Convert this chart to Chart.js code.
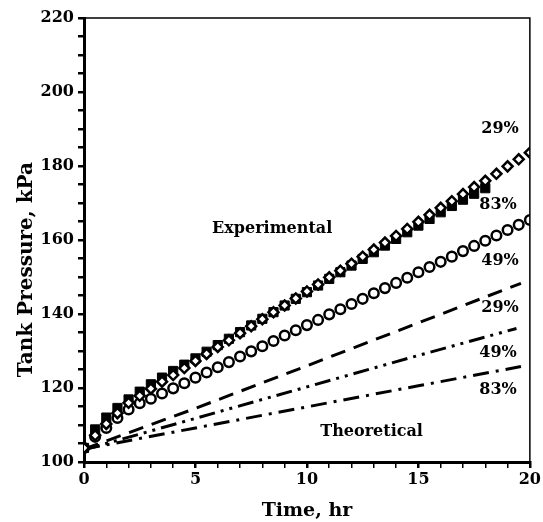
<!DOCTYPE html>
<html>
<head>
<meta charset="utf-8">
<script src="https://cdn.jsdelivr.net/npm/chart.js@4.4.1/dist/chart.umd.min.js"></script>
<style>
  html, body { margin: 0; padding: 0; background: #fff; }
</style>
</head>
<body>
<canvas id="pressureChart" width="543" height="522"></canvas>
<script>
// experimental readings, every half hour
const expTime = [0, 0.5, 1, 1.5, 2, 2.5, 3, 3.5, 4, 4.5, 5, 5.5, 6, 6.5, 7, 7.5, 8, 8.5, 9, 9.5, 10,
                 10.5, 11, 11.5, 12, 12.5, 13, 13.5, 14, 14.5, 15, 15.5, 16, 16.5, 17, 17.5, 18, 18.5, 19, 19.5, 20];
const exp29 = [103.8, 107.2, 110.3, 113.2, 116.0, 117.9, 119.8, 121.7, 123.5, 125.4, 127.3, 129.2, 131.1, 132.9,
               134.8, 136.7, 138.6, 140.5, 142.3, 144.2, 146.1, 148.0, 149.9, 151.7, 153.6, 155.5, 157.4, 159.3,
               161.1, 163.0, 164.9, 166.8, 168.7, 170.5, 172.4, 174.3, 176.0, 177.9, 179.9, 181.8, 183.6];
const exp49 = [103.8, 106.8, 109.2, 111.9, 114.2, 115.9, 117.1, 118.5, 119.9, 121.3, 122.8, 124.2, 125.6, 127.0,
               128.5, 129.9, 131.3, 132.7, 134.2, 135.6, 137.0, 138.4, 139.9, 141.3, 142.7, 144.1, 145.6, 147.0,
               148.4, 149.8, 151.3, 152.7, 154.1, 155.5, 157.0, 158.4, 159.8, 161.2, 162.7, 164.1, 165.4];
// 83% run stops at 18 hr
const exp83Time = [0, 0.5, 1, 1.5, 2, 2.5, 3, 3.5, 4, 4.5, 5, 5.5, 6, 6.5, 7, 7.5, 8, 8.5, 9, 9.5, 10,
                   10.5, 11, 11.5, 12, 12.5, 13, 13.5, 14, 14.5, 15, 15.5, 16, 16.5, 17, 17.5, 18];
const exp83 = [103.8, 108.8, 112.0, 114.6, 116.9, 119.0, 121.0, 122.8, 124.6, 126.3, 128.0, 129.8, 131.6, 133.3,
               135.1, 136.9, 138.7, 140.5, 142.3, 144.1, 145.9, 147.7, 149.5, 151.3, 153.1, 154.9, 156.7, 158.5,
               160.3, 162.1, 163.9, 165.7, 167.5, 169.2, 170.9, 172.5, 174.0];

// theoretical curves
const theoTime29 = [0, 5, 10, 15, 19.6];
const theo29 = [103.5, 114.5, 126.0, 137.6, 148.3];
const theoTime49 = [0, 5, 10, 15, 19.4];
const theo49 = [103.3, 111.8, 120.3, 128.8, 136.1];
const theoTime83 = [0, 5, 10, 15, 19.6];
const theo83 = [103.5, 109.2, 114.9, 120.6, 125.8];

// text on the plot, in data units
const noteText = ['29%', '83%', '49%', '29%', '49%', '83%', 'Experimental', 'Theoretical'];
const noteTime = [18.66, 18.57, 18.66, 18.66, 18.57, 18.57, 8.44, 12.9];
const notePres = [190.0, 169.5, 154.3, 141.6, 129.5, 119.5, 163.0, 108.1];

const serif = '"DejaVu Serif", "Liberation Serif", serif';

function pts(xs, ys) {
    return ys.map((v, i) => ({ x: xs[i], y: v }));
}

const extras = {
    id: 'extras',
    afterDraw(chart) {
        const { ctx, chartArea: a, scales: { x, y } } = chart;
        ctx.save();
        ctx.strokeStyle = '#000';
        ctx.lineWidth = 1.5;
        ctx.beginPath();
        ctx.moveTo(a.left, a.top);
        ctx.lineTo(a.right, a.top);
        ctx.lineTo(a.right, a.bottom);
        ctx.stroke();

        ctx.fillStyle = '#000';
        ctx.textAlign = 'center';
        ctx.textBaseline = 'middle';
        ctx.font = 'bold 16px ' + serif;
        noteText.forEach((t, i) => {
            ctx.fillText(t, x.getPixelForValue(noteTime[i]), y.getPixelForValue(notePres[i]));
        });

        // y axis title sits a bit below the middle in the original
        ctx.translate(27, y.getPixelForValue(152));
        ctx.rotate(-Math.PI / 2);
        ctx.font = 'bold 20px ' + serif;
        ctx.fillText('Tank Pressure, kPa', 0, 0);
        ctx.restore();
    }
};

const tickGrid = {
    drawOnChartArea: false,
    drawTicks: true,
    tickLength: 6,
    color: '#000',
    lineWidth: c => (c.tick && c.tick.value % 5 === 0) ? 2.5 : 1.5
};

new Chart(document.getElementById('pressureChart'), {
    type: 'scatter',
    data: {
        datasets: [
            {
                label: 'Exp 29%',
                data: pts(expTime, exp29),
                pointStyle: 'rectRot',
                pointRadius: 5,
                backgroundColor: '#fff',
                borderColor: '#000',
                borderWidth: 2.5,
                order: 0
            },
            {
                label: 'Exp 49%',
                data: pts(expTime, exp49),
                pointStyle: 'circle',
                pointRadius: 4.8,
                backgroundColor: '#fff',
                borderColor: '#000',
                borderWidth: 2.5,
                order: 1
            },
            {
                label: 'Exp 83%',
                data: pts(exp83Time, exp83),
                pointStyle: 'rect',
                pointRadius: 6.5,
                backgroundColor: '#000',
                borderColor: '#000',
                borderWidth: 1,
                order: 2
            },
            {
                label: 'Theory 29%',
                data: pts(theoTime29, theo29),
                showLine: true,
                pointRadius: 0,
                borderColor: '#000',
                borderWidth: 3,
                borderDash: [15, 9],
                order: 3
            },
            {
                label: 'Theory 49%',
                data: pts(theoTime49, theo49),
                showLine: true,
                pointRadius: 0,
                borderColor: '#000',
                borderWidth: 3,
                borderDash: [16, 6, 3, 6, 3, 6],
                order: 4
            },
            {
                label: 'Theory 83%',
                data: pts(theoTime83, theo83),
                showLine: true,
                pointRadius: 0,
                borderColor: '#000',
                borderWidth: 3,
                borderDash: [16, 7, 3, 7],
                order: 5
            }
        ]
    },
    options: {
        responsive: false,
        animation: false,
        layout: { padding: { top: 18, right: 10, left: 0, bottom: 0 } },
        plugins: {
            legend: { display: false },
            tooltip: { enabled: false }
        },
        scales: {
            x: {
                type: 'linear',
                min: 0,
                max: 20,
                ticks: {
                    stepSize: 1,
                    autoSkip: false,
                    maxRotation: 0,
                    padding: 2,
                    color: '#000',
                    font: { family: serif, size: 16, weight: 'bold' },
                    callback: v => v % 5 === 0 ? v : ''
                },
                grid: tickGrid,
                border: { color: '#000', width: 3 },
                title: {
                    display: true,
                    text: 'Time, hr',
                    color: '#000',
                    padding: 0,
                    font: { family: serif, size: 19, weight: 'bold' }
                },
                afterFit: s => { s.height = 60; }
            },
            y: {
                type: 'linear',
                min: 100,
                max: 220,
                ticks: {
                    stepSize: 5,
                    autoSkip: false,
                    padding: 4,
                    color: '#000',
                    font: { family: serif, size: 16, weight: 'bold' },
                    callback: v => v % 20 === 0 ? v : ''
                },
                grid: tickGrid,
                border: { color: '#000', width: 3 },
                afterFit: s => { s.width = 84; }
            }
        }
    },
    plugins: [extras]
});
</script>
</body>
</html>
